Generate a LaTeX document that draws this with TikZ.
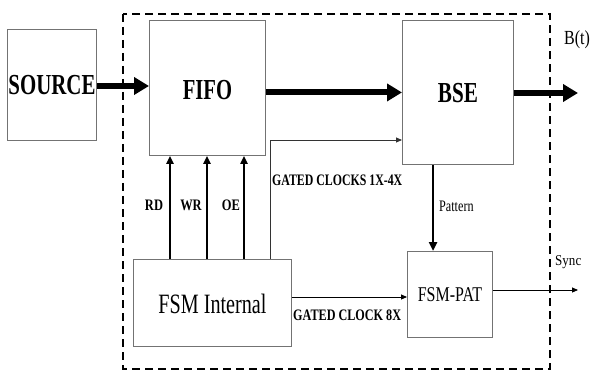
\documentclass[tikz,border=0pt]{standalone}
\usepackage{fontspec}
\setmainfont{Liberation Serif}
\usetikzlibrary{arrows.meta}
\begin{document}
\begin{tikzpicture}[x=1pt,y=-1pt,
  box/.style={draw=black!55,line width=0.9pt,fill=white,anchor=north west,inner sep=0pt},
  bigarrow/.style={line width=6pt,-{Triangle[length=15pt,width=17pt]}},
  sig/.style={line width=2.4pt,-{Triangle[length=8pt,width=7pt]}},
  thin/.style={line width=0.9pt,-{Triangle[length=6pt,width=5pt]}},
  lbl/.style={font=\fontsize{16}{16}\selectfont\bfseries,inner sep=0pt},
  lblr/.style={font=\fontsize{16}{16}\selectfont,inner sep=0pt}]
\useasboundingbox (0,0) rectangle (593,379);
% dashed frame
\draw[line width=2.6pt,dash pattern=on 8pt off 5pt] (123,14) rectangle (550,369);
% boxes
\node[box,minimum width=89pt,minimum height=111pt] (SRC) at (7,29) {};
\node[font=\fontsize{29}{29}\selectfont\bfseries] at (SRC.center) {\scalebox{0.72}[1]{SOURCE}};
\node[box,minimum width=116pt,minimum height=135pt] (FIFO) at (149,20) {};
\node[font=\fontsize{29}{29}\selectfont\bfseries] at ([yshift=-2pt]FIFO.center) {\scalebox{0.71}[1]{FIFO}};
\node[box,minimum width=111pt,minimum height=144pt] (BSE) at (402,20) {};
\node[font=\fontsize{29}{29}\selectfont\bfseries] at ([yshift=-1pt]BSE.center) {\scalebox{0.73}[1]{BSE}};
\node[box,minimum width=158pt,minimum height=87pt] (FSM) at (133,259) {};
\node[font=\fontsize{28}{28}\selectfont] at ([yshift=-1pt]FSM.center) {\scalebox{0.72}[1]{FSM Internal}};
\node[box,minimum width=85pt,minimum height=86pt] (PAT) at (407,251) {};
\node[font=\fontsize{21}{21}\selectfont] at (PAT.center) {\scalebox{0.76}[1]{FSM-PAT}};
% coordinates
\coordinate (rdx) at (170,0);
\coordinate (wrx) at (207,0);
\coordinate (oex) at (244,0);
\coordinate (gcx) at (270,0);
\coordinate (gcy) at (0,140);
\coordinate (outB) at (578,0);
\coordinate (outS) at (578,0);
\coordinate (gc8) at (0,297);
\coordinate (syn) at (0,290);
% big arrows
\draw[bigarrow] (SRC.east |- 0,86) -- (FIFO.west |- 0,86);
\draw[bigarrow] (FIFO.east |- BSE.west) -- (BSE.west);
\draw[bigarrow] (BSE.east |- 0,93) -- (outB |- 0,93);
% control arrows
\draw[sig] (FSM.north -| rdx) -- (FIFO.south -| rdx);
\draw[sig] (FSM.north -| wrx) -- (FIFO.south -| wrx);
\draw[sig] (FSM.north -| oex) -- (FIFO.south -| oex);
\draw[thin,draw=black!80] (FSM.north -| gcx) -- (gcx |- gcy) -- (BSE.west |- gcy);
\draw[line width=2.6pt,-{Triangle[length=9pt,width=8pt]}] (BSE.south -| 433,0) -- (PAT.north -| 433,0);
\draw[thin] (FSM.east |- gc8) -- (PAT.west |- gc8);
\draw[thin] (PAT.east |- syn) -- (outS |- syn);
% labels
\node[lbl] (lrd) at (154,205) {\scalebox{0.78}[1]{RD}};
\node[lbl] (lwr) at (191,205) {\scalebox{0.78}[1]{WR}};
\node[lbl] (loe) at (231,205) {\scalebox{0.78}[1]{OE}};
\node[lbl,anchor=west] (lgc) at (272,180) {\scalebox{0.74}[1]{GATED CLOCKS 1X-4X}};
\node[lbl,anchor=west] (lg8) at (293,315) {\scalebox{0.76}[1]{GATED CLOCK 8X}};
\node[lblr,anchor=west] (lpat) at (439,206) {\scalebox{0.76}[1]{Pattern}};
\node[lblr,anchor=west,font=\fontsize{15}{15}\selectfont] (lsync) at (555,262) {\scalebox{0.87}[1]{Sync}};
\node[anchor=west,inner sep=0pt,font=\fontsize{20}{20}\selectfont] (lbt) at (564,40) {\scalebox{0.8}[1]{B(t)}};
\end{tikzpicture}
\end{document}
